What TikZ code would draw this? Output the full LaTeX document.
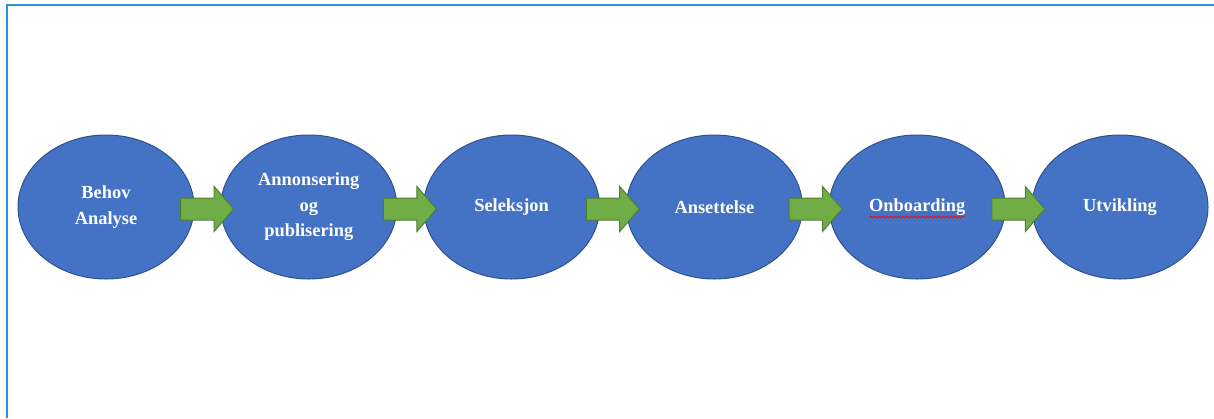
\documentclass[tikz,border=0pt]{standalone}
\usepackage{fontspec}
\setmainfont{Liberation Serif}
\usepackage{tikz}
\usetikzlibrary{positioning, calc, shapes.geometric, shapes.arrows, decorations.pathmorphing}
\definecolor{phasefill}{HTML}{4472C4}
\definecolor{phaseline}{HTML}{2F528F}
\definecolor{flowfill}{HTML}{70AD47}
\definecolor{flowline}{HTML}{507E32}
\definecolor{framecol}{HTML}{2B93D5}

\begin{document}
\begin{tikzpicture}[x=0.5pt,y=-0.5pt,node distance=101.4pt,on grid,
    phase/.style={ellipse,draw=phaseline,fill=phasefill,line width=0.5pt,
        minimum width=88pt,minimum height=72pt,inner sep=0pt,text=white,
        align=center,font=\fontsize{9.2}{12.75}\selectfont\bfseries},
    flow/.style={single arrow,draw=flowline,fill=flowfill,line width=0.5pt,
        minimum height=26.5pt,inner xsep=0pt,inner ysep=5.25pt,
        single arrow head extend=5.75pt,single arrow tip angle=98,
        anchor=center,xshift=-2.5pt,yshift=-1pt}]
    \useasboundingbox (0,0) rectangle (1214,418);
    \draw[framecol,line width=1pt] (1214,5) -- (7,5) -- (7,418);

    \node[phase] (B) at (106,207) {Behov\\Analyse};
    \node[phase] (P) [right of=B] {Annonsering\\og\\publisering};
    \node[phase] (S) [right of=P] {Seleksjon};
    \node[phase] (A) [right of=S] {Ansettelse};
    \node[phase] (O) [right of=A] {Onboarding};
    \node[phase] (U) [right of=O] {Utvikling};

    \path
    (B) -- node[flow] {} (P)
    (P) -- node[flow] {} (S)
    (S) -- node[flow] {} (A)
    (A) -- node[flow] {} (O)
    (O) -- node[flow] {} (U)
    ;

    \draw[red,line width=0.4pt,decorate,decoration={snake,amplitude=0.4pt,segment length=2pt}]
    ($(O)+(-48,10)$) -- ($(O)+(48,10)$);
\end{tikzpicture}
\end{document}
